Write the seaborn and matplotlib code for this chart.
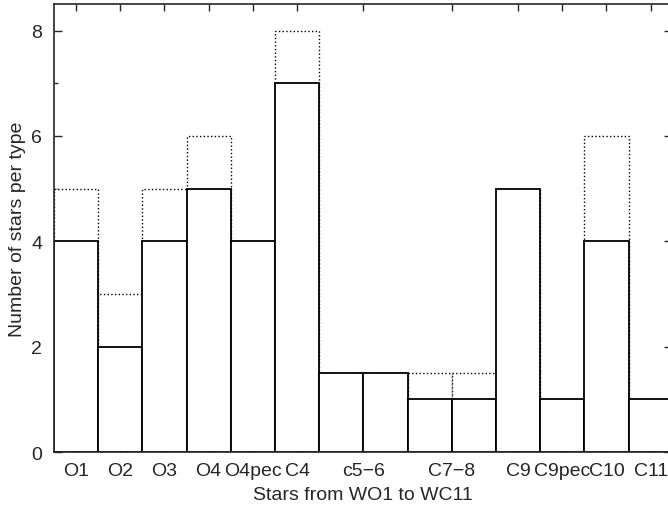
import pandas as pd
import seaborn as sns
import matplotlib.pyplot as plt
from matplotlib.ticker import MultipleLocator

# Bars: one per spectral subtype bin (c5-6 and C7-8 each cover two bins)
bar_ids = ['O1', 'O2', 'O3', 'O4', 'O4pec', 'C4', 'c5', 'c6',
           'C7', 'C8', 'C9', 'C9pec', 'C10', 'C11']
solid_counts = [4, 2, 4, 5, 4, 7, 1.5, 1.5, 1, 1, 5, 1, 4, 1]
dotted_counts = [5, 3, 5, 6, 4, 8, 1.5, 1.5, 1.5, 1.5, 5, 1, 6, 1]

# Tick labels and the bar position each one sits at
tick_labels = ['O1', 'O2', 'O3', 'O4', 'O4pec', 'C4', 'c5\u22126',
               'C7\u22128', 'C9', 'C9pec', 'C10', 'C11']
tick_pos = [0, 1, 2, 3, 4, 5, 6.5, 8.5, 10, 11, 12, 13]

df = pd.DataFrame({'bin': bar_ids, 'solid': solid_counts, 'dotted': dotted_counts})

sns.set_style('ticks')
plt.rcParams['font.family'] = ['Liberation Sans', 'DejaVu Sans']

fig = plt.figure(figsize=(6.68, 5.06), dpi=100)
ax = fig.add_axes([0.0808, 0.1047, 0.925, 0.885])

# dotted series drawn first, solid on top with white fill
sns.barplot(data=df, x='bin', y='dotted', order=bar_ids, width=1,
            color='white', edgecolor='black', linewidth=1.0,
            linestyle=':', ax=ax)
sns.barplot(data=df, x='bin', y='solid', order=bar_ids, width=1,
            color='white', edgecolor='black', linewidth=1.3, ax=ax)

ax.set_xlim(-0.5, 13.48)
ax.set_ylim(0, 8.5)
ax.set_xticks(tick_pos)
ax.set_xticklabels(tick_labels)
ax.yaxis.set_major_locator(MultipleLocator(2))
ax.yaxis.set_minor_locator(MultipleLocator(1))
ax.tick_params(axis='both', which='both', direction='in',
               top=True, right=True, labelsize=14, width=1.0)
ax.tick_params(axis='x', which='major', length=5, pad=7)
ax.tick_params(axis='y', which='major', length=6, pad=8.5)
ax.tick_params(axis='y', which='minor', length=3)
ax.set_xlabel('Stars from WO1 to WC11', fontsize=14, labelpad=5)
ax.set_ylabel('Number of stars per type', fontsize=14, labelpad=4)
for s in ax.spines.values():
    s.set_linewidth(1.2)

fig.savefig('out.png', dpi=100)
plt.close()
